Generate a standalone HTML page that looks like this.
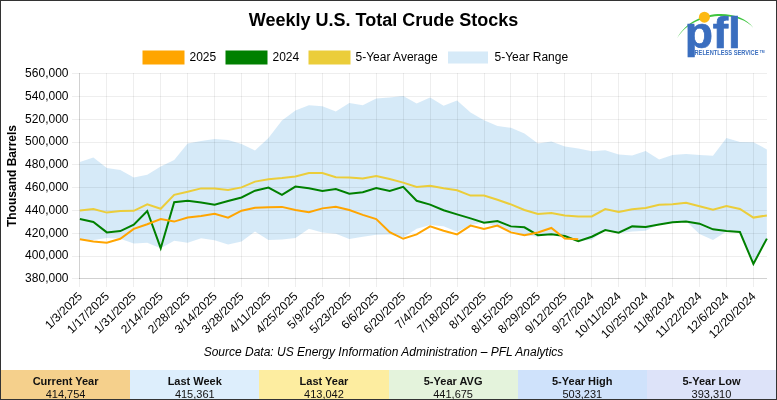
<!DOCTYPE html>
<html><head><meta charset="utf-8"><title>Weekly U.S. Total Crude Stocks</title>
<style>
html,body{margin:0;padding:0;background:#fff;}
body{width:777px;height:400px;overflow:hidden;font-family:"Liberation Sans",sans-serif;}
#wrap{position:relative;width:775px;height:398px;border:1px solid #333;background:#fff;overflow:hidden;}
svg{position:absolute;left:-1px;top:-1px;}
svg text{font-family:"Liberation Sans",sans-serif;font-size:12px;fill:#000;}
#tbl{position:absolute;left:0;top:369px;width:775px;height:29px;display:flex;}
.c{flex:1 1 0;text-align:center;font-size:11px;line-height:13px;color:#111;padding-top:4.5px;box-sizing:border-box;}
.c b{display:block;font-weight:bold;}
.c span{display:block;}
</style></head><body><div id="wrap">
<svg width="777" height="400" viewBox="0 0 777 400">
<path d="M79.90,162.00 L93.37,157.60 L106.84,168.00 L120.31,170.00 L133.78,177.40 L147.25,174.80 L160.72,166.40 L174.19,160.00 L187.66,143.60 L201.13,141.00 L214.60,139.00 L228.07,140.00 L241.54,144.00 L255.01,150.60 L268.48,138.00 L281.95,120.60 L295.42,110.40 L308.89,105.20 L322.36,106.20 L335.83,111.60 L349.30,103.00 L362.77,105.20 L376.24,98.60 L389.71,97.40 L403.18,96.00 L416.65,103.60 L430.12,97.60 L443.59,105.80 L457.06,100.60 L470.53,112.40 L484.00,120.30 L497.47,126.00 L510.94,127.80 L524.41,133.40 L537.88,143.40 L551.35,141.60 L564.82,146.60 L578.29,148.60 L591.76,151.20 L605.23,150.20 L618.70,154.60 L632.17,155.60 L645.64,151.00 L659.11,159.60 L672.58,155.00 L686.05,154.00 L699.52,155.00 L712.99,155.80 L726.46,138.00 L739.93,142.00 L753.40,142.20 L766.87,149.40 L766.87,238.60 L753.40,263.90 L739.93,231.90 L726.46,231.50 L712.99,240.00 L699.52,234.00 L686.05,221.30 L672.58,221.90 L659.11,224.30 L645.64,230.70 L632.17,231.60 L618.70,233.30 L605.23,230.00 L591.76,239.80 L578.29,240.90 L564.82,235.90 L551.35,234.00 L537.88,236.70 L524.41,234.90 L510.94,231.00 L497.47,227.30 L484.00,222.40 L470.53,225.00 L457.06,231.80 L443.59,226.30 L430.12,225.00 L416.65,228.80 L403.18,237.60 L389.71,234.60 L376.24,234.80 L362.77,236.80 L349.30,239.00 L335.83,233.80 L322.36,232.60 L308.89,228.80 L295.42,238.00 L281.95,239.40 L268.48,240.00 L255.01,231.40 L241.54,241.60 L228.07,244.40 L214.60,240.30 L201.13,238.20 L187.66,242.80 L174.19,240.80 L160.72,248.20 L147.25,242.80 L133.78,243.60 L120.31,238.80 L106.84,238.00 L93.37,240.00 L79.90,239.80Z" fill="#aed6f1" fill-opacity="0.5"/>
<g shape-rendering="crispEdges"><line x1="72" x2="767" y1="73.5" y2="73.5" stroke="rgba(0,0,0,0.065)"/><line x1="72" x2="767" y1="96.5" y2="96.5" stroke="rgba(0,0,0,0.065)"/><line x1="72" x2="767" y1="119.5" y2="119.5" stroke="rgba(0,0,0,0.065)"/><line x1="72" x2="767" y1="142.5" y2="142.5" stroke="rgba(0,0,0,0.065)"/><line x1="72" x2="767" y1="164.5" y2="164.5" stroke="rgba(0,0,0,0.065)"/><line x1="72" x2="767" y1="187.5" y2="187.5" stroke="rgba(0,0,0,0.065)"/><line x1="72" x2="767" y1="210.5" y2="210.5" stroke="rgba(0,0,0,0.065)"/><line x1="72" x2="767" y1="233.5" y2="233.5" stroke="rgba(0,0,0,0.065)"/><line x1="72" x2="767" y1="256.5" y2="256.5" stroke="rgba(0,0,0,0.065)"/><line x1="72" x2="767" y1="278.5" y2="278.5" stroke="rgba(0,0,0,0.065)"/><line x1="79" x2="767" y1="278.5" y2="278.5" stroke="rgba(0,0,0,0.12)"/><line y1="73" y2="286.5" x1="79.5" x2="79.5" stroke="rgba(0,0,0,0.065)"/><line y1="73" y2="279" x1="79.5" x2="79.5" stroke="rgba(0,0,0,0.12)"/><line y1="73" y2="286.5" x1="106.5" x2="106.5" stroke="rgba(0,0,0,0.065)"/><line y1="73" y2="286.5" x1="133.5" x2="133.5" stroke="rgba(0,0,0,0.065)"/><line y1="73" y2="286.5" x1="160.5" x2="160.5" stroke="rgba(0,0,0,0.065)"/><line y1="73" y2="286.5" x1="187.5" x2="187.5" stroke="rgba(0,0,0,0.065)"/><line y1="73" y2="286.5" x1="214.5" x2="214.5" stroke="rgba(0,0,0,0.065)"/><line y1="73" y2="286.5" x1="241.5" x2="241.5" stroke="rgba(0,0,0,0.065)"/><line y1="73" y2="286.5" x1="268.5" x2="268.5" stroke="rgba(0,0,0,0.065)"/><line y1="73" y2="286.5" x1="295.5" x2="295.5" stroke="rgba(0,0,0,0.065)"/><line y1="73" y2="286.5" x1="322.5" x2="322.5" stroke="rgba(0,0,0,0.065)"/><line y1="73" y2="286.5" x1="349.5" x2="349.5" stroke="rgba(0,0,0,0.065)"/><line y1="73" y2="286.5" x1="376.5" x2="376.5" stroke="rgba(0,0,0,0.065)"/><line y1="73" y2="286.5" x1="403.5" x2="403.5" stroke="rgba(0,0,0,0.065)"/><line y1="73" y2="286.5" x1="430.5" x2="430.5" stroke="rgba(0,0,0,0.065)"/><line y1="73" y2="286.5" x1="457.5" x2="457.5" stroke="rgba(0,0,0,0.065)"/><line y1="73" y2="286.5" x1="484.5" x2="484.5" stroke="rgba(0,0,0,0.065)"/><line y1="73" y2="286.5" x1="510.5" x2="510.5" stroke="rgba(0,0,0,0.065)"/><line y1="73" y2="286.5" x1="537.5" x2="537.5" stroke="rgba(0,0,0,0.065)"/><line y1="73" y2="286.5" x1="564.5" x2="564.5" stroke="rgba(0,0,0,0.065)"/><line y1="73" y2="286.5" x1="591.5" x2="591.5" stroke="rgba(0,0,0,0.065)"/><line y1="73" y2="286.5" x1="618.5" x2="618.5" stroke="rgba(0,0,0,0.065)"/><line y1="73" y2="286.5" x1="645.5" x2="645.5" stroke="rgba(0,0,0,0.065)"/><line y1="73" y2="286.5" x1="672.5" x2="672.5" stroke="rgba(0,0,0,0.065)"/><line y1="73" y2="286.5" x1="699.5" x2="699.5" stroke="rgba(0,0,0,0.065)"/><line y1="73" y2="286.5" x1="726.5" x2="726.5" stroke="rgba(0,0,0,0.065)"/><line y1="73" y2="286.5" x1="753.5" x2="753.5" stroke="rgba(0,0,0,0.065)"/></g>
<path d="M79.90,210.60 L93.37,209.00 L106.84,212.60 L120.31,211.00 L133.78,210.80 L147.25,204.40 L160.72,208.80 L174.19,194.80 L187.66,191.80 L201.13,188.40 L214.60,188.40 L228.07,190.00 L241.54,187.40 L255.01,181.60 L268.48,179.20 L281.95,178.00 L295.42,176.40 L308.89,173.00 L322.36,173.00 L335.83,177.20 L349.30,177.60 L362.77,178.60 L376.24,176.00 L389.71,179.00 L403.18,182.60 L416.65,187.00 L430.12,185.80 L443.59,188.20 L457.06,190.20 L470.53,195.60 L484.00,195.60 L497.47,199.80 L510.94,204.40 L524.41,210.00 L537.88,214.00 L551.35,213.00 L564.82,215.60 L578.29,216.60 L591.76,216.40 L605.23,209.00 L618.70,212.00 L632.17,209.20 L645.64,208.00 L659.11,204.80 L672.58,204.20 L686.05,202.80 L699.52,206.20 L712.99,209.80 L726.46,206.00 L739.93,209.00 L753.40,217.60 L766.87,215.40" fill="none" stroke="#ebcd3a" stroke-width="2" stroke-linejoin="miter"/>
<path d="M79.90,219.09 L93.37,221.93 L106.84,232.41 L120.31,231.05 L133.78,224.78 L147.25,211.00 L160.72,248.20 L174.19,202.23 L187.66,200.75 L201.13,202.46 L214.60,204.74 L228.07,201.09 L241.54,197.45 L255.01,190.73 L268.48,187.65 L281.95,194.94 L295.42,186.62 L308.89,188.22 L322.36,191.07 L335.83,189.02 L349.30,193.69 L362.77,192.32 L376.24,187.99 L389.71,190.95 L403.18,186.85 L416.65,200.75 L430.12,204.62 L443.59,210.20 L457.06,214.42 L470.53,218.40 L484.00,222.62 L497.47,221.02 L510.94,226.38 L524.41,227.29 L537.88,235.15 L551.35,234.24 L564.82,236.06 L578.29,241.18 L591.76,236.74 L605.23,230.13 L618.70,232.64 L632.17,226.38 L645.64,226.95 L659.11,224.44 L672.58,222.16 L686.05,221.48 L699.52,223.64 L712.99,229.34 L726.46,230.93 L739.93,232.07 L753.40,263.90 L766.87,238.60" fill="none" stroke="#008000" stroke-width="2" stroke-linejoin="miter" stroke-miterlimit="10"/>
<path d="M79.90,239.36 L93.37,241.52 L106.84,242.66 L120.31,238.79 L133.78,228.88 L147.25,224.21 L160.72,218.97 L174.19,221.59 L187.66,217.49 L201.13,215.90 L214.60,213.85 L228.07,217.72 L241.54,210.66 L255.01,207.81 L268.48,207.13 L281.95,206.90 L295.42,209.97 L308.89,212.25 L322.36,208.38 L335.83,206.79 L349.30,209.97 L362.77,214.87 L376.24,219.09 L389.71,232.18 L403.18,238.79 L416.65,234.35 L430.12,226.38 L443.59,230.70 L457.06,234.35 L470.53,225.58 L484.00,229.00 L497.47,225.58 L510.94,232.41 L524.41,235.15 L537.88,232.41 L551.35,227.97 L564.82,238.49 L578.29,239.19" fill="none" stroke="#ffa500" stroke-width="2" stroke-linejoin="miter"/>
<text x="383.5" y="25.5" text-anchor="middle" style="font-size:18px;font-weight:bold">Weekly U.S. Total Crude Stocks</text>
<g>
<rect x="143.5" y="51.5" width="40" height="12" fill="#ffa500" stroke="#ffa500" stroke-width="2"/>
<text x="189.5" y="61.1">2025</text>
<rect x="226.5" y="51.5" width="40" height="12" fill="#008000" stroke="#008000" stroke-width="2"/>
<text x="272.5" y="61.1">2024</text>
<rect x="309.5" y="51.5" width="40" height="12" fill="#ebcd3a" stroke="#ebcd3a" stroke-width="2"/>
<text x="355.5" y="61.1">5-Year Average</text>
<rect x="448" y="51.5" width="40" height="12" fill="#d6eaf8"/>
<text x="494.5" y="61.1">5-Year Range</text>
</g>
<g><text x="68.5" y="77.10" text-anchor="end">560,000</text><text x="68.5" y="99.88" text-anchor="end">540,000</text><text x="68.5" y="122.66" text-anchor="end">520,000</text><text x="68.5" y="145.44" text-anchor="end">500,000</text><text x="68.5" y="168.22" text-anchor="end">480,000</text><text x="68.5" y="191.00" text-anchor="end">460,000</text><text x="68.5" y="213.78" text-anchor="end">440,000</text><text x="68.5" y="236.56" text-anchor="end">420,000</text><text x="68.5" y="259.34" text-anchor="end">400,000</text><text x="68.5" y="282.12" text-anchor="end">380,000</text></g>
<g><text transform="translate(82.95,296.95) rotate(-44.5)" text-anchor="end">1/3/2025</text><text transform="translate(109.89,296.95) rotate(-44.5)" text-anchor="end">1/17/2025</text><text transform="translate(136.83,296.95) rotate(-44.5)" text-anchor="end">1/31/2025</text><text transform="translate(163.77,296.95) rotate(-44.5)" text-anchor="end">2/14/2025</text><text transform="translate(190.71,296.95) rotate(-44.5)" text-anchor="end">2/28/2025</text><text transform="translate(217.65,296.95) rotate(-44.5)" text-anchor="end">3/14/2025</text><text transform="translate(244.59,296.95) rotate(-44.5)" text-anchor="end">3/28/2025</text><text transform="translate(271.53,296.95) rotate(-44.5)" text-anchor="end">4/11/2025</text><text transform="translate(298.47,296.95) rotate(-44.5)" text-anchor="end">4/25/2025</text><text transform="translate(325.41,296.95) rotate(-44.5)" text-anchor="end">5/9/2025</text><text transform="translate(352.35,296.95) rotate(-44.5)" text-anchor="end">5/23/2025</text><text transform="translate(379.29,296.95) rotate(-44.5)" text-anchor="end">6/6/2025</text><text transform="translate(406.23,296.95) rotate(-44.5)" text-anchor="end">6/20/2025</text><text transform="translate(433.17,296.95) rotate(-44.5)" text-anchor="end">7/4/2025</text><text transform="translate(460.11,296.95) rotate(-44.5)" text-anchor="end">7/18/2025</text><text transform="translate(487.05,296.95) rotate(-44.5)" text-anchor="end">8/1/2025</text><text transform="translate(513.99,296.95) rotate(-44.5)" text-anchor="end">8/15/2025</text><text transform="translate(540.93,296.95) rotate(-44.5)" text-anchor="end">8/29/2025</text><text transform="translate(567.87,296.95) rotate(-44.5)" text-anchor="end">9/12/2025</text><text transform="translate(594.81,296.95) rotate(-44.5)" text-anchor="end">9/27/2024</text><text transform="translate(621.75,296.95) rotate(-44.5)" text-anchor="end">10/11/2024</text><text transform="translate(648.69,296.95) rotate(-44.5)" text-anchor="end">10/25/2024</text><text transform="translate(675.63,296.95) rotate(-44.5)" text-anchor="end">11/8/2024</text><text transform="translate(702.57,296.95) rotate(-44.5)" text-anchor="end">11/22/2024</text><text transform="translate(729.51,296.95) rotate(-44.5)" text-anchor="end">12/6/2024</text><text transform="translate(756.45,296.95) rotate(-44.5)" text-anchor="end">12/20/2024</text></g>
<text transform="translate(15.5,176) rotate(-90)" text-anchor="middle" style="font-weight:bold">Thousand Barrels</text>
<text x="383.5" y="356" text-anchor="middle" style="font-style:italic">Source Data: US Energy Information Administration – PFL Analytics</text>
<g id="logo">
<path d="M677,38.5 C693,8 739.5,8 753.5,28 C739.5,10.4 693,10.4 677,38.5Z" fill="#3fc53f"/>
<circle cx="704.4" cy="17.2" r="5.5" fill="#fdb913"/>
<text transform="translate(684.8,47.8) scale(1.05,1)" style="font-size:44px;font-weight:bold;fill:#3a6ebf;stroke:#3a6ebf;stroke-width:0.7px;letter-spacing:-0.2px">pfl</text>
<text x="694.5" y="55.2" textLength="64" lengthAdjust="spacingAndGlyphs" style="font-size:6.6px;font-weight:bold;fill:#3a6ebf">RELENTLESS SERVICE</text>
<text x="759.8" y="52.6" style="font-size:3.4px;font-weight:bold;fill:#3a6ebf">TM</text>
</g>
</svg>
<div id="tbl"><div class="c" style="background:#f5d08c"><b>Current Year</b><span>414,754</span></div><div class="c" style="background:#ddeefc"><b>Last Week</b><span>415,361</span></div><div class="c" style="background:#fdeda0"><b>Last Year</b><span>413,042</span></div><div class="c" style="background:#e4f3dc"><b>5-Year AVG</b><span>441,675</span></div><div class="c" style="background:#cfe2fb"><b>5-Year High</b><span>503,231</span></div><div class="c" style="background:#dde3f9"><b>5-Year Low</b><span>393,310</span></div></div>
</div></body></html>
